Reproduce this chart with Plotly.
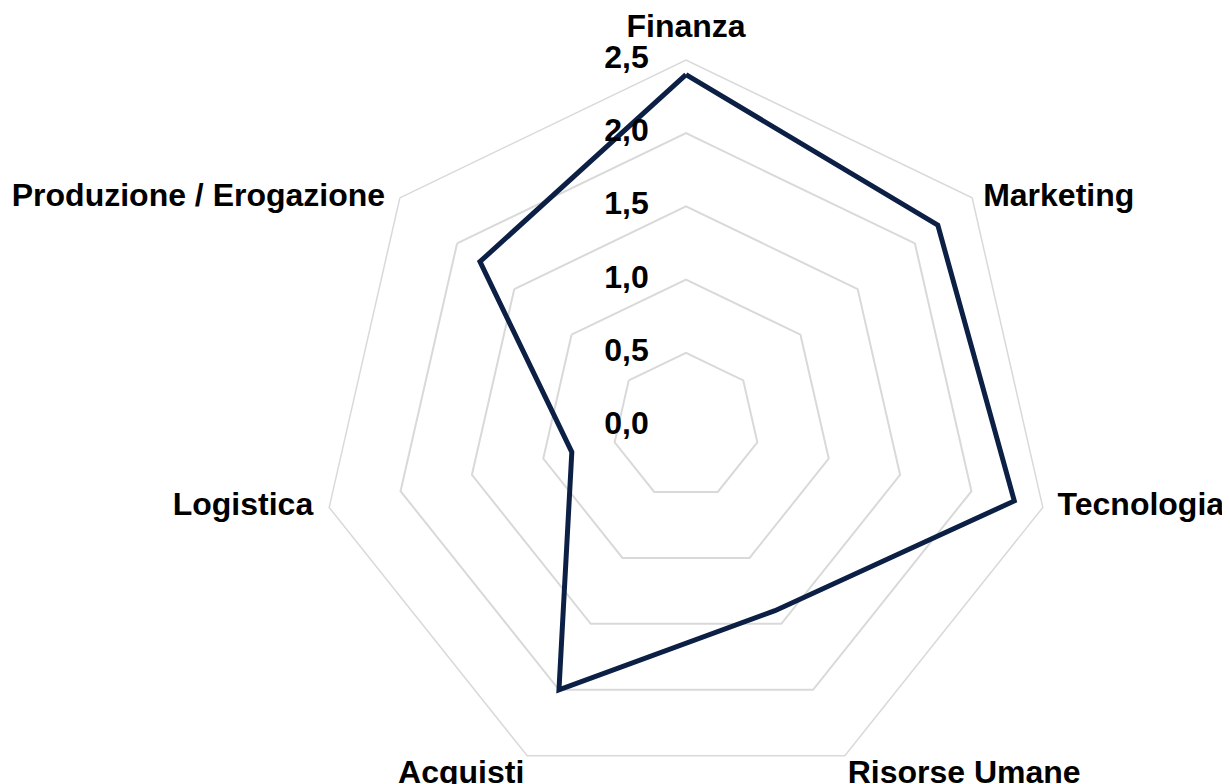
import plotly.graph_objects as go

categorie = ["Finanza", "Marketing", "Tecnologia", "Risorse Umane",
             "Acquisti", "Logistica", "Produzione / Erogazione"]
valori = [2.4, 2.2, 2.3, 1.4, 2.0, 0.8, 1.8]
tick_vals = [0.0, 0.5, 1.0, 1.5, 2.0, 2.5]
tick_text = [f"{v:.1f}".replace(".", ",") for v in tick_vals]

GRID = "#d9d9d9"
NAVY = "#0c1f45"
FONT = dict(family="Liberation Sans, Arial, sans-serif", size=32, color="black", weight="bold")

# where each category label sits relative to its corner, Excel style
pos_etichette = ["top center", "middle right", "middle right", "bottom right",
                 "bottom left", "middle left", "middle left"]
gap_etichette = [22, 16, 22, 3, 3, 24, 22]  # invisible marker sizes -> text offset

fig = go.Figure()
fig.add_trace(go.Scatterpolar(
    r=valori + valori[:1], theta=categorie + categorie[:1],
    mode="lines", line=dict(color=NAVY, width=5), hoverinfo="skip", showlegend=False))

# category labels round the outer ring
fig.add_trace(go.Scatterpolar(
    r=[tick_vals[-1]] * len(categorie), theta=categorie, text=categorie,
    mode="markers+text", textposition=pos_etichette, textfont=FONT,
    marker=dict(size=gap_etichette, opacity=0), cliponaxis=False,
    hoverinfo="skip", showlegend=False))

# radial values, left of the vertical axis as in Excel.
# plotly hides a point sitting exactly on the centre, so nudge r=0 by a hair
r_etichette = [max(v, 1e-6) for v in tick_vals]
fig.add_trace(go.Scatterpolar(
    r=r_etichette, theta=[categorie[0]] * len(tick_vals), text=tick_text,
    mode="markers+text", textposition="middle left", textfont=FONT,
    marker=dict(size=58, opacity=0), cliponaxis=False,
    hoverinfo="skip", showlegend=False))

# the page body adds an 8px margin, so the figure is sized to sit in the window
fig.update_layout(
    width=1222, height=800,
    margin=dict(l=134, r=0, t=52, b=16),
    paper_bgcolor="white",
    polar=dict(
        bgcolor="white",
        gridshape="linear",
        radialaxis=dict(range=[0, 2.5], tickvals=tick_vals, showticklabels=False,
                        angle=90, showline=False, ticks="",
                        gridcolor=GRID, gridwidth=1.5),
        angularaxis=dict(direction="clockwise", rotation=90, showticklabels=False,
                         showgrid=False, linecolor=GRID, linewidth=1.5, ticks=""),
    ),
)
fig.write_html("out.html")
